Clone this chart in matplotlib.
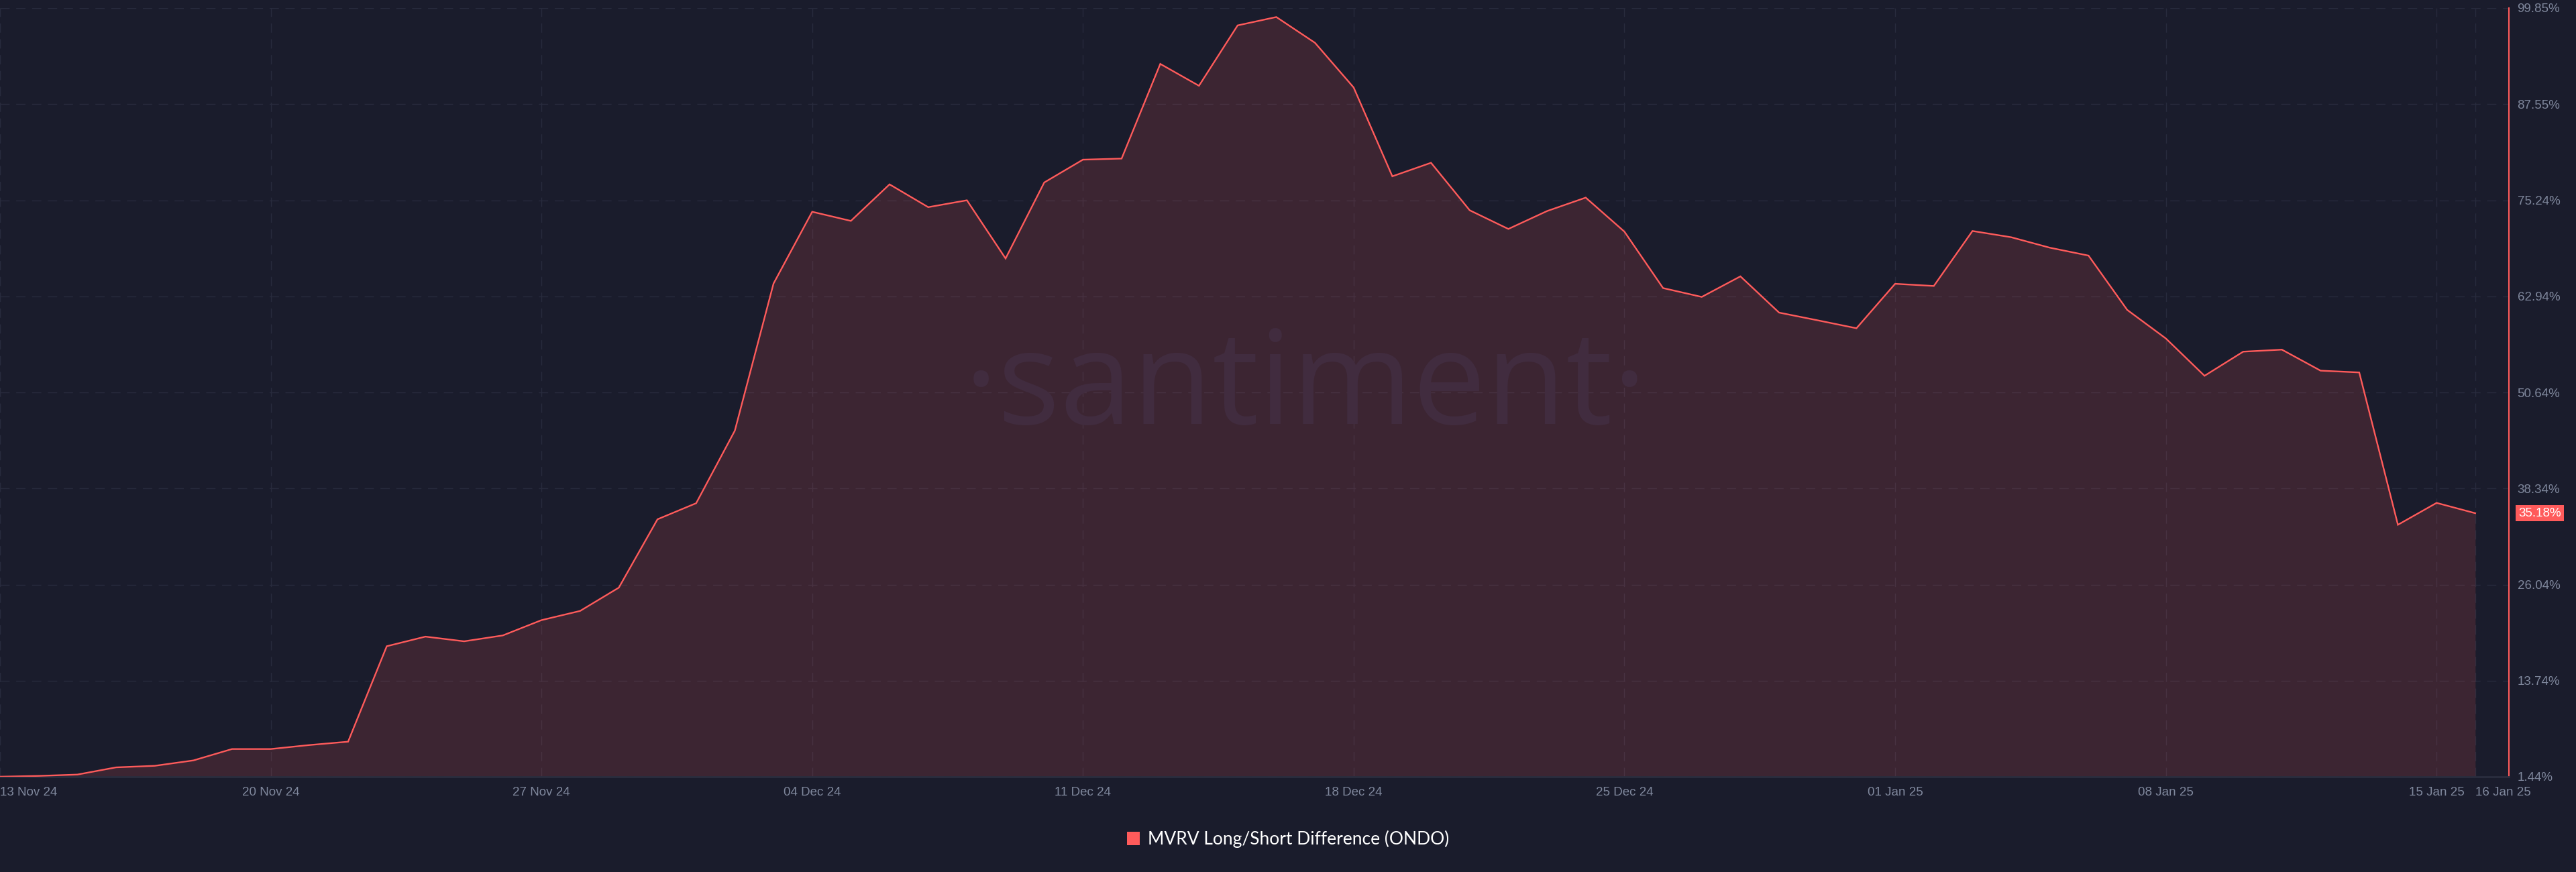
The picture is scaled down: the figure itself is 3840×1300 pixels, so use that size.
import numpy as np
import pandas as pd
import matplotlib
matplotlib.use('Agg')
import matplotlib.pyplot as plt
import matplotlib.dates as mdates
import matplotlib.transforms as mtransforms
from matplotlib.patches import Patch

# daily MVRV long/short difference (%), 13 Nov 24 .. 16 Jan 25
start_date = '2024-11-13'
mvrv_values = [
    1.45, 1.55, 1.72, 2.64, 2.84, 3.53, 4.99, 4.99, 5.50, 5.93,
    18.15, 19.38, 18.78, 19.53, 21.49, 22.67, 25.65, 34.40, 36.46, 45.75,
    64.58, 73.77, 72.60, 77.28, 74.36, 75.24, 67.79, 77.52, 80.44, 80.58,
    92.70, 89.90, 97.63, 98.70, 95.40, 89.68, 78.31, 80.04, 73.96, 71.57,
    73.86, 75.58, 71.23, 64.00, 62.87, 65.50, 60.86, 59.87, 58.86, 64.55,
    64.27, 71.31, 70.51, 69.17, 68.16, 61.21, 57.55, 52.77, 55.86, 56.12,
    53.43, 53.20, 33.70, 36.50, 35.18,
]
y_ticks = [1.44, 13.74, 26.04, 38.34, 50.64, 62.94, 75.24, 87.55, 99.85]
x_tick_dates = ['2024-11-13', '2024-11-20', '2024-11-27', '2024-12-04',
                '2024-12-11', '2024-12-18', '2024-12-25', '2025-01-01',
                '2025-01-08', '2025-01-15', '2025-01-16']
series_label = 'MVRV Long/Short Difference (ONDO)'

BG = '#1a1c2c'
RED = '#ff5b5b'
TICK_COLOR = '#7f879c'

dates = pd.date_range(start_date, periods=len(mvrv_values), freq='D')

fig = plt.figure(figsize=(38.4, 13), dpi=100, facecolor=BG)
ax = fig.add_axes([0, 1 - 1158 / 1300, 3740 / 3840, (1158 - 12) / 1300])
ax.set_facecolor(BG)

ax.fill_between(dates, mvrv_values, y_ticks[0], color=RED, alpha=0.15,
                linewidth=0, zorder=2)
ax.plot(dates, mvrv_values, color=RED, lw=1.7, zorder=4,
        solid_joinstyle='miter')

ax.set_ylim(y_ticks[0], y_ticks[-1])
ax.set_xlim(dates[0], dates[0] + pd.Timedelta(days=64.87))

# grid, very faint
ax.grid(True, color='#282b3d', lw=1.0, linestyle=(0, (10, 7)), zorder=1)
ax.set_axisbelow(True)

# y axis on the right
ax.yaxis.tick_right()
ax.set_yticks(y_ticks)
ax.set_yticklabels(['{:.2f}%'.format(v) for v in y_ticks])
ax.tick_params(axis='y', length=0, pad=9, labelsize=13.5, labelcolor=TICK_COLOR)

# x axis
ax.set_xticks(pd.to_datetime(x_tick_dates))
ax.set_xticklabels([pd.Timestamp(d).strftime('%d %b %y') for d in x_tick_dates])
ax.tick_params(axis='x', length=0, pad=11, labelsize=13.5, labelcolor=TICK_COLOR)
labels = ax.get_xticklabels()
labels[0].set_ha('left')
labels[-1].set_ha('left')
for lab in ax.get_xticklabels() + ax.get_yticklabels():
    lab.set_family(['Liberation Sans', 'DejaVu Sans'])

for side in ['top', 'left']:
    ax.spines[side].set_visible(False)
ax.spines['right'].set_color(RED)
ax.spines['right'].set_linewidth(1.5)
ax.spines['bottom'].set_color('#2a2d3e')
ax.spines['bottom'].set_linewidth(2)

# last value badge
trans = mtransforms.blended_transform_factory(ax.transAxes, ax.transData)
ax.text(1.0123, mvrv_values[-1], '{:.2f}%'.format(mvrv_values[-1]),
        transform=trans, ha='center', va='center', fontsize=13.5,
        color='white', family=['Liberation Sans', 'DejaVu Sans'],
        bbox=dict(boxstyle='square,pad=0.2', facecolor=RED, edgecolor='none'),
        clip_on=False)

# watermark
ax.text(0.5203, 0.459, '\u00b7santiment\u00b7', transform=ax.transAxes,
        ha='center', va='baseline', fontsize=140, color='#412c3f',
        family=['Open Sans', 'DejaVu Sans'], zorder=3)

# legend
fig.legend(handles=[Patch(facecolor=RED, edgecolor='none')],
           labels=[series_label], loc='center',
           bbox_to_anchor=(0.5, 1 - 1251 / 1300), frameon=False,
           handlelength=0.75, handleheight=0.75, handletextpad=0.45,
           prop={'family': ['Lato', 'DejaVu Sans'], 'size': 19},
           labelcolor='white')

fig.savefig('out.png', dpi=100, facecolor=BG)
